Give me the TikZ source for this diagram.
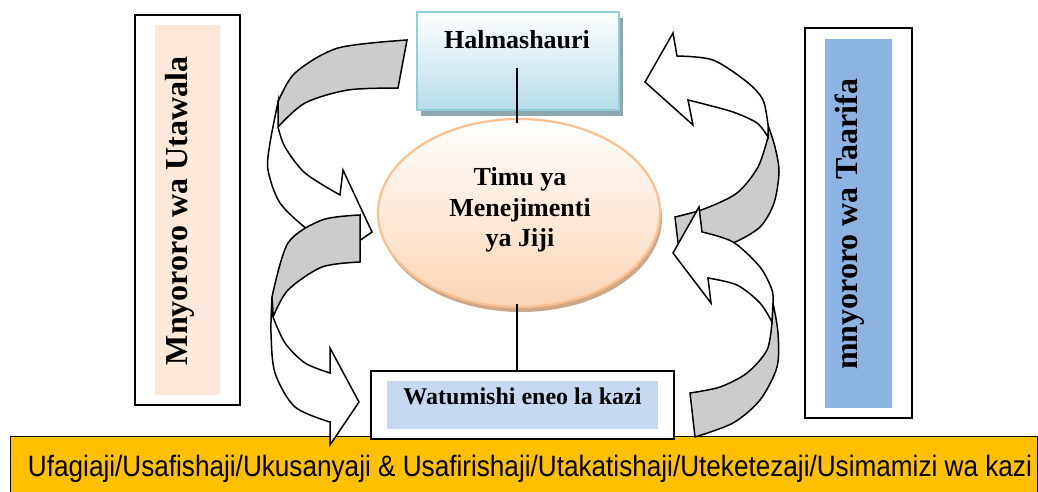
\documentclass[tikz,border=0pt]{standalone}
\usepackage{fontspec}
\setmainfont{Liberation Serif}
\newfontfamily\barfont{Liberation Sans}
\usetikzlibrary{shapes.geometric,shadows}
\definecolor{peach}{HTML}{FDE9D9}
\definecolor{skyblue}{HTML}{8DB3E2}
\definecolor{paleblue}{HTML}{C6D9F1}
\definecolor{aqua}{HTML}{B6DDE8}
\definecolor{aquaedge}{HTML}{92CDDC}
\definecolor{aquashadow}{HTML}{8FA7AF}
\definecolor{apricot}{HTML}{FBD4B4}
\definecolor{apricotedge}{HTML}{FAC090}
\definecolor{apricotshadow}{HTML}{CFA887}
\definecolor{amber}{HTML}{FFC000}
\definecolor{band}{HTML}{CCCCCC}
\begin{document}
\begin{tikzpicture}[x=1pt,y=-1pt,
	frame/.style={draw,line width=1.8pt,fill=white,inner sep=0pt},
	panel/.style={inner sep=0pt},
	chaintext/.style={rotate=90,anchor=base,font=\bfseries\fontsize{32}{38}\selectfont},
	back/.style={draw,line width=1.5pt,fill=band},
	front/.style={draw,line width=1.5pt,fill=white}]
	\useasboundingbox (0,0) rectangle (1038,491);
	\node[draw,line width=1.4pt,fill=amber,anchor=north west,minimum width=1027,minimum height=70,inner sep=0pt] (bar) at (10,435.5) {};
	\node[anchor=base] (barText) at (530,476.5) {\resizebox{1004pt}{\height}{\barfont\fontsize{29.5}{34}\selectfont Ufagiaji/Usafishaji/Ukusanyaji \& Usafirishaji/Utakatishaji/Uteketezaji/Usimamizi wa kazi}};
	\node[frame,minimum width=105,minimum height=390] (utawala) at (187.5,210) {};
	\node[panel,fill=peach,minimum width=65,minimum height=370] (utawalaFill) at (187.5,210) {};
	\node[chaintext] (utawalaText) at (187,211) {Mnyororo wa Utawala};
	\node[frame,minimum width=107,minimum height=390] (taarifa) at (858.5,223) {};
	\node[panel,fill=skyblue,minimum width=67,minimum height=369] (taarifaFill) at (858.5,223.5) {};
	\node[chaintext] (taarifaText) at (857,224.5) {mnyororo wa Taarifa};
	\node[draw=aquaedge,line width=2.5pt,top color=white,bottom color=aqua,minimum width=202,minimum height=98,inner sep=0pt,drop shadow={shadow xshift=4pt,shadow yshift=-6pt,fill=aquashadow,opacity=1}] (halm) at (518,61) {};
	\node[anchor=base,font=\bfseries\fontsize{26}{30}\selectfont] (halmText) at (517,48) {Halmashauri};
	\node[ellipse,draw=apricotedge,line width=2.2pt,top color=white,bottom color=apricot,minimum width=282,minimum height=188,inner sep=0pt,drop shadow={shadow xshift=2pt,shadow yshift=-5pt,fill=apricotshadow,opacity=1}] (jiji) at (519,213) {};
	\node[align=center,font=\bfseries\fontsize{26}{30.5}\selectfont] (jijiText) at (520,210) {Timu ya\\Menejimenti\\ya Jiji};
	\node[frame,minimum width=303,minimum height=68] (watu) at (522.5,405) {};
	\node[panel,fill=paleblue,minimum width=271,minimum height=48] (watuFill) at (522.5,405) {};
	\node[anchor=base,font=\bfseries\fontsize{24}{28}\selectfont] (watuText) at (522.5,404) {Watumishi eneo la kazi};
	\draw[line width=1.3pt] ([xshift=-1pt,yshift=-7pt]halm.center) -- ([xshift=-2pt,yshift=-5pt]jiji.north);
	\draw[line width=1.3pt] ([xshift=-2pt,yshift=4pt]jiji.south) -- ([xshift=-5.5pt,yshift=-2pt]watu.north);
	\draw[back] plot[smooth] coordinates {(407,40) (338,48) (295,73) (278,102)} -- (278,127) -- plot[smooth] coordinates {(278,127) (305,103) (348,90) (398,88)} -- cycle;
	\draw[front] plot[smooth] coordinates {(278,102) (270,143) (268,170) (280,203) (308,230) (329,243)} -- (325,265) -- (372,232) -- (343,170) -- (340,195) -- plot[smooth] coordinates {(340,195) (305,173) (285,147) (278,127)} -- cycle;
	\draw[back] plot[smooth] coordinates {(360,215) (322,220) (288,243) (272,297)} -- (273,317) -- plot[smooth] coordinates {(273,317) (288,290) (322,267) (360,262)} -- cycle;
	\draw[front] plot[smooth] coordinates {(272,297) (271,333) (275,373) (295,407) (330,422)} -- (330,445) -- (359,402) -- (330,348) -- (330,373) -- plot[smooth] coordinates {(330,373) (305,363) (285,343) (273,317)} -- cycle;
	\draw[back] plot[smooth] coordinates {(768,125) (775,147) (779,172) (774,203) (760,227) (733,243) (705,250) (679,251)} -- (675,217) -- plot[smooth] coordinates {(675,217) (704,209) (737,193) (758,167) (768,137)} -- cycle;
	\draw[front] plot[smooth] coordinates {(677,56) (713,60) (747,82) (763,100) (768,125)} -- (768,137) -- plot[smooth] coordinates {(768,137) (757,123) (733,112) (700,103) (688,100)} -- (693,125) -- (645,82) -- (673,33) -- cycle;
	\draw[back] plot[smooth] coordinates {(773,303) (778,333) (777,367) (760,400) (733,423) (695,437)} -- (690,393) -- plot[smooth] coordinates {(690,393) (720,387) (747,373) (767,350) (772,322)} -- cycle;
	\draw[front] plot[smooth] coordinates {(702,232) (733,242) (760,267) (772,290) (773,303)} -- (772,322) -- plot[smooth] coordinates {(772,322) (760,303) (737,285) (708,278)} -- (711,303) -- (673,253) -- (699,207) -- cycle;
\end{tikzpicture}
\end{document}
